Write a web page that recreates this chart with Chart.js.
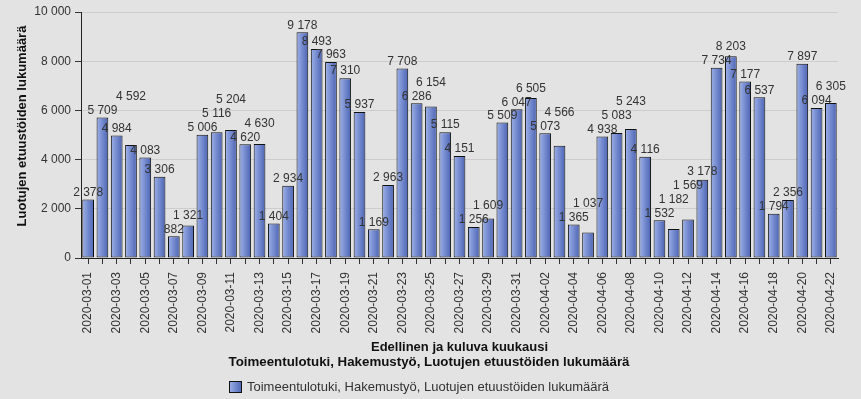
<!doctype html>
<html>
<head>
<meta charset="utf-8">
<script src="https://cdn.jsdelivr.net/npm/chart.js@4.4.1/dist/chart.umd.min.js"></script>
<style>
  body { margin: 0; background: #e3e3e3; }
  canvas { display: block; }
</style>
</head>
<body>
<canvas id="chart" width="861" height="399"></canvas>
<script>
// Päivät ja luodut etuustiedot
const dates = [
  '2020-03-01','2020-03-02','2020-03-03','2020-03-04','2020-03-05','2020-03-06','2020-03-07','2020-03-08',
  '2020-03-09','2020-03-10','2020-03-11','2020-03-12','2020-03-13','2020-03-14','2020-03-15','2020-03-16',
  '2020-03-17','2020-03-18','2020-03-19','2020-03-20','2020-03-21','2020-03-22','2020-03-23','2020-03-24',
  '2020-03-25','2020-03-26','2020-03-27','2020-03-28','2020-03-29','2020-03-30','2020-03-31','2020-04-01',
  '2020-04-02','2020-04-03','2020-04-04','2020-04-05','2020-04-06','2020-04-07','2020-04-08','2020-04-09',
  '2020-04-10','2020-04-11','2020-04-12','2020-04-13','2020-04-14','2020-04-15','2020-04-16','2020-04-17',
  '2020-04-18','2020-04-19','2020-04-20','2020-04-21','2020-04-22'
];
const counts = [
  2378, 5709, 4984, 4592, 4083, 3306, 882, 1321, 5006, 5116,
  5204, 4620, 4630, 1404, 2934, 9178, 8493, 7963, 7310, 5937,
  1169, 2963, 7708, 6286, 6154, 5115, 4151, 1256, 1609, 5509,
  6047, 6505, 5073, 4566, 1365, 1037, 4938, 5083, 5243, 4116,
  1532, 1182, 1569, 3178, 7734, 8203, 7177, 6537, 1794, 2356,
  7897, 6094, 6305
];
const seriesName = 'Toimeentulotuki, Hakemustyö, Luotujen etuustöiden lukumäärä';
const yTitle = 'Luotujen etuustöiden lukumäärä';
const xTitle = 'Edellinen ja kuluva kuukausi';

const FONT = '"Liberation Sans", Arial, sans-serif';
const fmt = n => String(n).replace(/\B(?=(\d{3})+(?!\d))/g, ' ');

function barFill(ctx, x0, x1) {
  const g = ctx.createLinearGradient(x0, 0, x1, 0);
  g.addColorStop(0, '#9db1e8');
  g.addColorStop(1, '#4b63b4');
  return g;
}

// arvot palkkien päälle, päällekkäiset nostetaan ylemmäs
const valueLabels = {
  id: 'valueLabels',
  afterDatasetsDraw(chart) {
    const ctx = chart.ctx;
    ctx.save();
    ctx.font = '12px ' + FONT;
    ctx.fillStyle = '#333';
    ctx.textAlign = 'center';
    ctx.textBaseline = 'middle';
    const placed = [];
    chart.getDatasetMeta(0).data.forEach((bar, i) => {
      const text = fmt(counts[i]);
      const w = ctx.measureText(text).width, h = 14;
      const box = {l: bar.x - w / 2, r: bar.x + w / 2, t: bar.y - h, b: bar.y};
      let moved = true;
      while (moved) {
        moved = false;
        for (const p of placed) {
          if (box.l < p.r && box.r > p.l && box.t < p.b - 1.5 && box.b > p.t + 1.5) {
            box.b = p.t; box.t = p.t - h; moved = true;
          }
        }
      }
      placed.push(box);
      ctx.fillText(text, bar.x, (box.t + box.b) / 2);
    });
    ctx.restore();
  }
};

// y-akselin otsikko ja selite
const extraText = {
  id: 'extraText',
  afterDraw(chart) {
    const ctx = chart.ctx;
    ctx.save();
    ctx.fillStyle = '#111';
    ctx.textAlign = 'center';
    ctx.textBaseline = 'middle';
    ctx.font = 'bold 13px ' + FONT;
    ctx.translate(22, 126);
    ctx.rotate(-Math.PI / 2);
    ctx.fillText(yTitle, 0, 0);
    ctx.setTransform(1, 0, 0, 1, 0, 0);
    ctx.font = 'bold 13.3px ' + FONT;
    ctx.fillText(seriesName, 429, 362);
    ctx.fillStyle = barFill(ctx, 229, 242);
    ctx.fillRect(229, 381, 13, 12);
    ctx.strokeStyle = '#111';
    ctx.lineWidth = 1;
    ctx.strokeRect(229.5, 381.5, 12, 11);
    ctx.fillStyle = '#333';
    ctx.textAlign = 'left';
    ctx.font = '13px ' + FONT;
    ctx.fillText(seriesName, 247, 387);
    ctx.restore();
  }
};

function start() {
  const ctx = document.getElementById('chart').getContext('2d');
  new Chart(ctx, {
    type: 'bar',
    data: {
      labels: dates,
      datasets: [{
        label: seriesName,
        data: counts,
        backgroundColor: c => {
          const chart = c.chart, xs = chart.scales && chart.scales.x;
          if (!xs || !chart.chartArea || c.dataIndex === undefined) return '#6f86cc';
          const cx = xs.getPixelForValue(c.dataIndex);
          const half = xs.width / dates.length * 0.82 / 2;
          return barFill(chart.ctx, cx - half, cx + half);
        },
        borderColor: '#111',
        borderWidth: 1,
        borderSkipped: false,
        categoryPercentage: 1,
        barPercentage: 0.82
      }]
    },
    options: {
      responsive: false,
      animation: false,
      devicePixelRatio: 1,
      layout: { padding: { top: 12, right: 23, left: 0, bottom: 44 } },
      plugins: { legend: { display: false }, tooltip: { enabled: false } },
      scales: {
        x: {
          afterFit: s => { s.height = 97; },
          grid: { display: true, drawOnChartArea: false, offset: false, tickLength: 6, tickColor: '#333' },
          border: { color: '#222' },
          ticks: {
            autoSkip: false, maxRotation: 90, minRotation: 90, padding: 8,
            color: '#333', font: { family: FONT, size: 12 },
            callback: (v, i) => i % 2 === 0 ? dates[i] : ''
          },
          title: { display: true, text: xTitle, color: '#111', font: { family: FONT, size: 13, weight: 'bold' }, padding: { top: 0, bottom: 0 } }
        },
        y: {
          min: 0, max: 10000,
          afterFit: s => { s.width = 81; },
          grid: { color: '#cdcdcd', tickLength: 6, tickColor: '#333' },
          border: { color: '#222' },
          ticks: { stepSize: 2000, padding: 4, color: '#333', font: { family: FONT, size: 12 }, callback: v => fmt(v) }
        }
      }
    },
    plugins: [valueLabels, extraText]
  });
}
start();
</script>
</body>
</html>
